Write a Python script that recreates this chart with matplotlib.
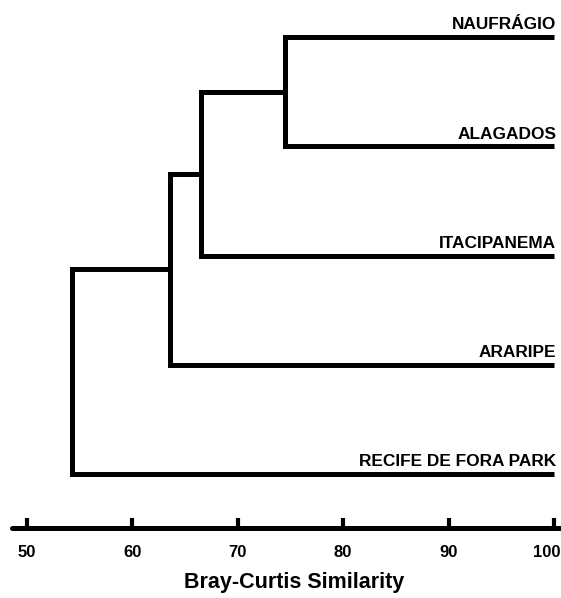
import matplotlib.pyplot as plt
from matplotlib.transforms import ScaledTranslation

# dendrogram data (Bray-Curtis similarity, %)
sites = ['NAUFRÁGIO', 'ALAGADOS', 'ITACIPANEMA', 'ARARIPE', 'RECIFE DE FORA PARK']
merge_levels = [74.5, 66.5, 63.6, 54.3]   # each step joins the next site to the cluster above
ticks = [50, 60, 70, 80, 90, 100]

font = ['Liberation Sans', 'DejaVu Sans']
lw = 3.6

fig = plt.figure(figsize=(5.61, 5.98), dpi=100)
ax = fig.add_axes([12 / 561, 70 / 598, 548 / 561, 518 / 598])

n = len(sites)
ypos = [n - 1 - i for i in range(n)]

# first cluster = first site
cx, cy = 100, ypos[0]
for i, m in enumerate(merge_levels):
    j = i + 1
    ax.plot([cx, m, m, 100], [cy, cy, ypos[j], ypos[j]], color='black',
            lw=lw, solid_joinstyle='miter', solid_capstyle='butt')
    cx, cy = m, (cy + ypos[j]) / 2

for s, y in zip(sites, ypos):
    ax.text(100.2, y + 0.07, s, ha='right', va='baseline', fontsize=12.4,
            fontweight='bold', family=font)

ax.set_xlim(48.58, 100.57)
ax.set_ylim(-0.494, 4.247)
for side in ['top', 'left', 'right']:
    ax.spines[side].set_visible(False)
ax.spines['bottom'].set_linewidth(lw)
ax.spines['bottom'].set_capstyle('round')
ax.set_yticks([])
ax.set_xticks(ticks)
ax.tick_params(axis='x', direction='in', length=7, width=3, pad=12)
labs = ax.get_xticklabels()
for lab in labs:
    lab.set_fontweight('bold')
    lab.set_fontsize(12)
    lab.set_family(font)
# last label pushed inside the figure
labs[-1].set_ha('right')
labs[-1].set_transform(labs[-1].get_transform() + ScaledTranslation(5 / 72, 0, fig.dpi_scale_trans))
ax.set_xlabel('Bray-Curtis Similarity', fontsize=15.5, fontweight='bold',
              family=font)
ax.xaxis.set_label_coords(0.5146, -0.085)

fig.savefig('out.png', dpi=100)
